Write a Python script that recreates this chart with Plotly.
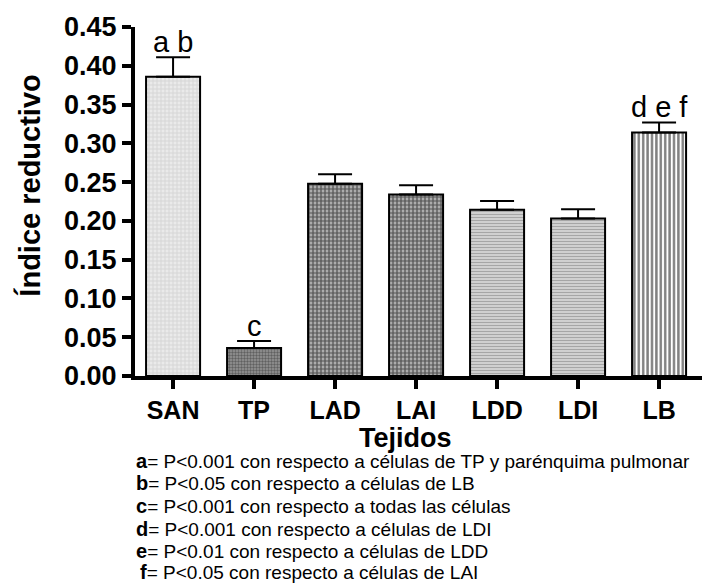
import plotly.graph_objects as go

# ---- data ----
categories = ["SAN", "TP", "LAD", "LAI", "LDD", "LDI", "LB"]
values = [0.386, 0.036, 0.248, 0.234, 0.2145, 0.203, 0.314]
errors = [0.025, 0.009, 0.012, 0.012, 0.011, 0.012, 0.013]
sig_letters = ["a b", "c", "", "", "", "", "d e f"]
y_ticks = [0.00, 0.05, 0.10, 0.15, 0.20, 0.25, 0.30, 0.35, 0.40, 0.45]
footnotes = [
    ("a", "P&lt;0.001 con respecto a células de TP y parénquima pulmonar"),
    ("b", "P&lt;0.05 con respecto a células de LB"),
    ("c", "P&lt;0.001 con respecto a todas las células"),
    ("d", "P&lt;0.001 con respecto a células de LDI"),
    ("e", "P&lt;0.01 con respecto a células de LDD"),
    ("f", "P&lt;0.05 con respecto a células de LAI"),
]

# ---- styles ----
FONT = "Liberation Sans, Arial, sans-serif"
W, H = 727, 584
ML, MR, MT, MB = 135, 25, 24, 208
PW, PH = W - ML - MR, H - MT - MB

bar_styles = [
    dict(shape="+", fg="#b0b0b0", bg="#eaeaea", size=4, sol=0.3),   # SAN
    dict(shape=".", fg="#2a2a2a", bg="#969696", size=3, sol=0.5),   # TP
    dict(shape=".", fg="#000000", bg="#c8c8c8", size=4, sol=0.7),   # LAD
    dict(shape=".", fg="#000000", bg="#c8c8c8", size=4, sol=0.7),   # LAI
    dict(shape="-", fg="#6e6e6e", bg="#dedede", size=3, sol=0.5),   # LDD
    dict(shape="-", fg="#6e6e6e", bg="#dedede", size=3, sol=0.5),   # LDI
    dict(shape="|", fg="#000000", bg="#ffffff", size=4.4, sol=0.55),  # LB
]

def px(x):
    return (x - ML) / PW

def py(y):
    return (MT + PH - y) / PH

fig = go.Figure()
for cat, v, e, st in zip(categories, values, errors, bar_styles):
    fig.add_trace(go.Bar(
        x=[cat],
        y=[v],
        width=0.667,
        marker=dict(
            color=st["bg"],
            line=dict(color="black", width=2),
            pattern=dict(shape=st["shape"], fgcolor=st["fg"], size=st["size"],
                         solidity=st["sol"], fillmode="overlay"),
        ),
        error_y=dict(type="data", array=[e], arrayminus=[0],
                     symmetric=False, color="black", thickness=2, width=17),
        showlegend=False,
    ))

annotations = []
for cat, v, e, t in zip(categories, values, errors, sig_letters):
    if t:
        annotations.append(dict(
            x=cat, y=v + e, xref="x", yref="y", text=t, showarrow=False,
            yanchor="bottom", yshift=-3,
            font=dict(family=FONT, size=29, color="black"),
        ))

# y-axis title
annotations.append(dict(
    x=px(30), y=py(184), xref="paper", yref="paper", text="<b>Índice reductivo</b>",
    textangle=-90, showarrow=False, xanchor="center", yanchor="middle",
    font=dict(family=FONT, size=29, color="black"),
))
# x-axis title
annotations.append(dict(
    x=px(405), y=py(439), xref="paper", yref="paper", text="<b>Tejidos</b>",
    showarrow=False, xanchor="center", yanchor="middle",
    font=dict(family=FONT, size=27, color="black"),
))
# footnotes
foot_y = [462, 484, 507, 530, 553, 574]
for (letter, txt), yy in zip(footnotes, foot_y):
    annotations.append(dict(
        x=px(134 if letter != "f" else 138), y=py(yy), xref="paper", yref="paper",
        text=f"<b><span style='font-size:20px'>{letter}</span></b>= {txt}",
        showarrow=False, xanchor="left", yanchor="middle",
        font=dict(family=FONT, size=19, color="black"),
    ))

fig.update_layout(
    width=W, height=H,
    margin=dict(l=ML, r=MR, t=MT, b=MB, pad=0),
    plot_bgcolor="white", paper_bgcolor="white",
    font=dict(family=FONT, color="black"),
    annotations=annotations,
    barmode="overlay",
)
fig.update_xaxes(
    range=[-0.47, 6.53], showline=True, linecolor="black", linewidth=4,
    ticks="outside", ticklen=9, tickwidth=4, tickcolor="black",
    tickfont=dict(family=FONT, size=25, color="black"),
    tickprefix="<b>", ticksuffix="</b>",
    showgrid=False, zeroline=False,
)
fig.update_yaxes(
    range=[0, 0.45], showline=True, linecolor="black", linewidth=4,
    ticks="outside", ticklen=9, tickwidth=4, tickcolor="black",
    tickvals=y_ticks, ticktext=[f"<b>{v:.2f}</b>" for v in y_ticks],
    tickfont=dict(family=FONT, size=27, color="black"),
    showgrid=False, zeroline=False,
)

fig.write_html("out.html")
